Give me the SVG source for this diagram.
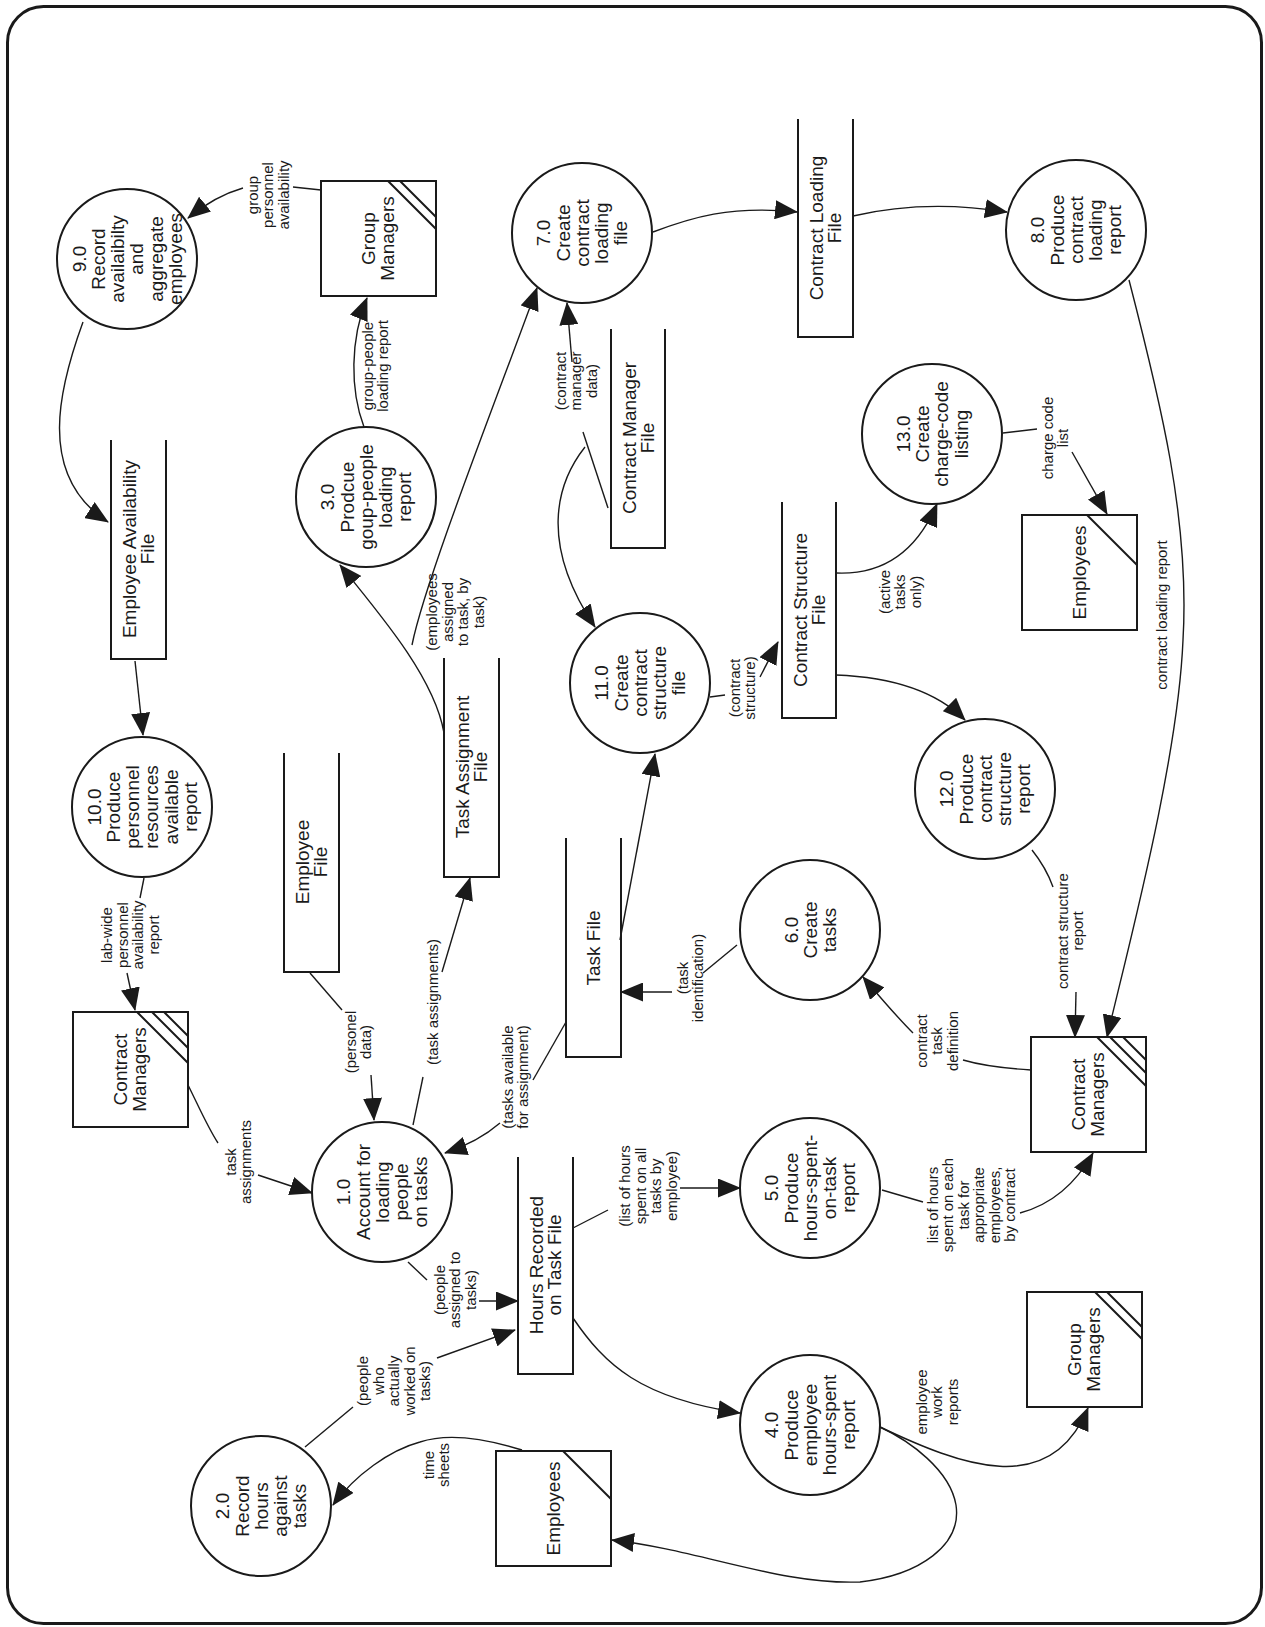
<svg xmlns="http://www.w3.org/2000/svg" width="1265" height="1627" viewBox="0 0 1265 1627">
<defs>
<style>
.b{fill:none;stroke:#1a1a1a;stroke-width:3}
.p{fill:#fff;stroke:#1a1a1a;stroke-width:2}
.s{fill:none;stroke:#1a1a1a;stroke-width:2}
.c{fill:none;stroke:#1a1a1a;stroke-width:1.4}
.a{marker-end:url(#ah)}
.t{font-family:"Liberation Sans",Arial,sans-serif;font-size:19px;fill:#1a1a1a;text-anchor:middle}
.l{font-family:"Liberation Sans",Arial,sans-serif;font-size:15px;fill:#1a1a1a;text-anchor:middle}
</style>
<marker id="ah" viewBox="0 0 23 19" refX="22" refY="9.5" markerWidth="23" markerHeight="19" markerUnits="userSpaceOnUse" orient="auto"><path d="M0,0 L23,9.5 L0,19 z" fill="#1a1a1a"/></marker>
</defs>
<rect width="1265" height="1627" fill="#fff"/>
<rect class="b" x="7.5" y="6.5" width="1254" height="1617" rx="36"/>

<g id="connectors">
<!-- GM top -> 9.0 -->
<path class="c" d="M321,190 L293,187"/>
<path class="c a" d="M243,188 Q215,196 188,218"/>
<text class="l" transform="translate(268,195) rotate(-90)"><tspan x="0" y="-10.1">group</tspan><tspan x="0" y="5.4">personnel</tspan><tspan x="0" y="20.9">availability</tspan></text>
<!-- 3.0 -> GM top -->
<path class="c a" d="M364,427 C350,390 350,340 367,298"/>
<text class="l" transform="translate(375,366) rotate(-90)"><tspan x="0" y="-2.35">group-people</tspan><tspan x="0" y="13.15">loading report</tspan></text>
<!-- 9.0 -> EAF -->
<path class="c a" d="M83,322 C60,385 35,475 108,522"/>
<!-- EAF -> 10.0 -->
<path class="c a" d="M135,661 L143,735"/>
<!-- 10.0 -> CM left -->
<path class="c" d="M144,878 L140,898"/>
<path class="c a" d="M127,973 L135,1010"/>
<text class="l" transform="translate(130,935) rotate(-90)"><tspan x="0" y="-17.85">lab-wide</tspan><tspan x="0" y="-2.35">personnel</tspan><tspan x="0" y="13.15">availability</tspan><tspan x="0" y="28.65">report</tspan></text>
<!-- CM left -> 1.0 -->
<path class="c" d="M188,1085 C198,1105 208,1128 218,1143"/>
<path class="c a" d="M258,1175 L312,1193"/>
<text class="l" transform="translate(238,1162) rotate(-90)"><tspan x="0" y="-2.35">task</tspan><tspan x="0" y="13.15">assignments</tspan></text>
<!-- Employee File -> 1.0 -->
<path class="c" d="M310,973 L342,1010"/>
<path class="c a" d="M371,1075 L374,1120"/>
<text class="l" transform="translate(358,1042) rotate(-90)"><tspan x="0" y="-2.35">(personel</tspan><tspan x="0" y="13.15">data)</tspan></text>
<!-- 1.0 -> TAF -->
<path class="c" d="M413,1125 L423,1077"/>
<path class="c a" d="M442,972 L470,878"/>
<text class="l" transform="translate(433,1002) rotate(-90)"><tspan x="0" y="5.4">(task assignments)</tspan></text>
<!-- Task File -> 1.0 -->
<path class="c" d="M566,1022 L533,1080"/>
<path class="c a" d="M500,1123 Q478,1142 445,1153"/>
<text class="l" transform="translate(515,1077) rotate(-90)"><tspan x="0" y="-2.35">(tasks available</tspan><tspan x="0" y="13.15">for assignment)</tspan></text>
<!-- TAF -> 3.0 -->
<path class="c a" d="M444,733 C435,680 385,620 340,565"/>
<!-- TAF -> 7.0 -->
<path class="c a" d="M412,645 C425,580 500,390 537,288"/>
<text class="l" transform="translate(455,612) rotate(-90)"><tspan x="0" y="-17.85">(employees</tspan><tspan x="0" y="-2.35">assigned</tspan><tspan x="0" y="13.15">to task, by</tspan><tspan x="0" y="28.65">task)</tspan></text>
<!-- CMF -> 7.0 / 11.0 -->
<path class="c" d="M608,508 L583,432"/>
<path class="c a" d="M572,362 L567,303"/>
<path class="c a" d="M585,447 C555,485 540,545 595,627"/>
<text class="l" transform="translate(576,381) rotate(-90)"><tspan x="0" y="-10.1">(contract</tspan><tspan x="0" y="5.4">manager</tspan><tspan x="0" y="20.9">data)</tspan></text>
<!-- 7.0 -> CLF -->
<path class="c a" d="M653,232 C690,218 730,205 797,212"/>
<!-- CLF -> 8.0 -->
<path class="c a" d="M853,216 C900,205 950,203 1007,212"/>
<!-- 8.0 -> CM right -->
<path class="c a" d="M1129,280 C1160,400 1190,520 1183,640 C1178,760 1130,940 1107,1037"/>
<text class="l" transform="translate(1162,615) rotate(-90)"><tspan x="0" y="5.4">contract loading report</tspan></text>
<!-- 11.0 -> CSF -->
<path class="c" d="M710,697 L725,695"/>
<path class="c a" d="M760,677 L778,642"/>
<text class="l" transform="translate(742,688) rotate(-90)"><tspan x="0" y="-2.35">(contract</tspan><tspan x="0" y="13.15">structure)</tspan></text>
<!-- Task File -> 11.0 -->
<path class="c a" d="M620,940 L655,754"/>
<!-- CSF -> 13.0 -->
<path class="c a" d="M836,573 C880,575 915,555 937,504"/>
<text class="l" transform="translate(900,592) rotate(-90)"><tspan x="0" y="-10.1">(active</tspan><tspan x="0" y="5.4">tasks</tspan><tspan x="0" y="20.9">only)</tspan></text>
<!-- 13.0 -> Employees top -->
<path class="c" d="M1003,433 L1037,429"/>
<path class="c a" d="M1072,452 L1107,514"/>
<text class="l" transform="translate(1055,438) rotate(-90)"><tspan x="0" y="-2.35">charge code</tspan><tspan x="0" y="13.15">list</tspan></text>
<!-- CSF -> 12.0 -->
<path class="c a" d="M836,675 C890,677 935,690 965,720"/>
<!-- 6.0 -> Task File -->
<path class="c" d="M737,945 L703,973"/>
<path class="c a" d="M672,992 L621,992"/>
<text class="l" transform="translate(690,978) rotate(-90)"><tspan x="0" y="-2.35">(task</tspan><tspan x="0" y="13.15">identification)</tspan></text>
<!-- CM right -> 6.0 -->
<path class="c" d="M1031,1070 C1000,1068 980,1065 963,1060"/>
<path class="c a" d="M913,1033 C895,1015 880,997 863,977"/>
<text class="l" transform="translate(937,1041) rotate(-90)"><tspan x="0" y="-10.1">contract</tspan><tspan x="0" y="5.4">task</tspan><tspan x="0" y="20.9">definition</tspan></text>
<!-- 12.0 -> CM right -->
<path class="c" d="M1032,850 C1040,860 1048,873 1053,887"/>
<path class="c a" d="M1076,992 L1075,1037"/>
<text class="l" transform="translate(1070,931) rotate(-90)"><tspan x="0" y="-2.35">contract structure</tspan><tspan x="0" y="13.15">report</tspan></text>
<!-- 1.0 -> HR -->
<path class="c" d="M408,1262 L427,1280"/>
<path class="c a" d="M479,1301 L518,1301"/>
<text class="l" transform="translate(455,1290) rotate(-90)"><tspan x="0" y="-10.1">(people</tspan><tspan x="0" y="5.4">assigned to</tspan><tspan x="0" y="20.9">tasks)</tspan></text>
<!-- 2.0 -> HR -->
<path class="c" d="M305,1447 L353,1407"/>
<path class="c a" d="M437,1358 L515,1330"/>
<text class="l" transform="translate(394,1381) rotate(-90)"><tspan x="0" y="-25.6">(people</tspan><tspan x="0" y="-10.1">who</tspan><tspan x="0" y="5.4">actually</tspan><tspan x="0" y="20.9">worked on</tspan><tspan x="0" y="36.4">tasks)</tspan></text>
<!-- Employees bottom -> 2.0 -->
<path class="c a" d="M522,1450 C490,1440 450,1432 420,1442 C390,1450 355,1475 333,1505"/>
<text class="l" transform="translate(436,1465) rotate(-90)"><tspan x="0" y="-2.35">time</tspan><tspan x="0" y="13.15">sheets</tspan></text>
<!-- HR -> 5.0 -->
<path class="c" d="M573,1228 L608,1210"/>
<path class="c a" d="M680,1188 L740,1188"/>
<text class="l" transform="translate(648,1186) rotate(-90)"><tspan x="0" y="-17.85">(list of hours</tspan><tspan x="0" y="-2.35">spent on all</tspan><tspan x="0" y="13.15">tasks by</tspan><tspan x="0" y="28.65">employee)</tspan></text>
<!-- HR -> 4.0 -->
<path class="c a" d="M573,1318 C605,1365 640,1398 740,1413"/>
<!-- 5.0 -> CM right -->
<path class="c" d="M882,1190 L923,1202"/>
<path class="c a" d="M1020,1213 C1050,1205 1075,1185 1093,1153"/>
<text class="l" transform="translate(971,1205) rotate(-90)"><tspan x="0" y="-33.35">list of hours</tspan><tspan x="0" y="-17.85">spent on each</tspan><tspan x="0" y="-2.35">task for</tspan><tspan x="0" y="13.15">appropriate</tspan><tspan x="0" y="28.65">employees,</tspan><tspan x="0" y="44.15">by contract</tspan></text>
<!-- 4.0 -> GM bottom -->
<path class="c a" d="M880,1427 C960,1465 1050,1500 1088,1408"/>
<text class="l" transform="translate(937,1402) rotate(-90)"><tspan x="0" y="-10.1">employee</tspan><tspan x="0" y="5.4">work</tspan><tspan x="0" y="20.9">reports</tspan></text>
<!-- 4.0 -> Employees bottom -->
<path class="c a" d="M880,1427 C910,1441 950,1470 956,1505 C962,1545 920,1575 860,1582 C780,1585 700,1550 612,1540"/>
</g>

<g id="p9">
<circle class="p" cx="127" cy="259" r="70"/>
<text class="t" transform="translate(127,259) rotate(-90)"><tspan x="0" y="-41.2">9.0</tspan><tspan x="0" y="-22">Record</tspan><tspan x="0" y="-2.8">availaibilty</tspan><tspan x="0" y="16.4">and</tspan><tspan x="0" y="35.6">aggregate</tspan><tspan x="0" y="54.8">employees</tspan></text>
</g>
<g id="gm-top">
<rect class="p" x="321" y="181" width="115" height="115"/>
<path class="s" d="M388,181 L436,229 M400,181 L436,217"/>
<text class="t" transform="translate(378,238.5) rotate(-90)"><tspan x="0" y="-2.8">Group</tspan><tspan x="0" y="16.4">Managers</tspan></text>
</g>
<g id="p7">
<circle class="p" cx="582" cy="233" r="70"/>
<text class="t" transform="translate(582,233) rotate(-90)"><tspan x="0" y="-31.6">7.0</tspan><tspan x="0" y="-12.4">Create</tspan><tspan x="0" y="6.8">contract</tspan><tspan x="0" y="26">loading</tspan><tspan x="0" y="45.2">file</tspan></text>
</g>
<g id="clf">
<path class="s" d="M798,119 L798,337 L853,337 L853,119"/>
<text class="t" transform="translate(825.5,228) rotate(-90)"><tspan x="0" y="-2.2">Contract Loading</tspan><tspan x="0" y="15.8">File</tspan></text>
</g>
<g id="p8">
<circle class="p" cx="1076" cy="230" r="70"/>
<text class="t" transform="translate(1076,230) rotate(-90)"><tspan x="0" y="-31.6">8.0</tspan><tspan x="0" y="-12.4">Produce</tspan><tspan x="0" y="6.8">contract</tspan><tspan x="0" y="26">loading</tspan><tspan x="0" y="45.2">report</tspan></text>
</g>
<g id="eaf">
<path class="s" d="M111,440 L111,659 L166,659 L166,440"/>
<text class="t" transform="translate(138.5,549) rotate(-90)"><tspan x="0" y="-2.2">Employee Availability</tspan><tspan x="0" y="15.8">File</tspan></text>
</g>
<g id="p3">
<circle class="p" cx="366" cy="497" r="70"/>
<text class="t" transform="translate(366,497) rotate(-90)"><tspan x="0" y="-31.6">3.0</tspan><tspan x="0" y="-12.4">Prodcue</tspan><tspan x="0" y="6.8">goup-people</tspan><tspan x="0" y="26">loading</tspan><tspan x="0" y="45.2">report</tspan></text>
</g>
<g id="cmf">
<path class="s" d="M611,329 L611,548 L665,548 L665,329"/>
<text class="t" transform="translate(638,438) rotate(-90)"><tspan x="0" y="-2.2">Contract Manager</tspan><tspan x="0" y="15.8">File</tspan></text>
</g>
<g id="p13">
<circle class="p" cx="932" cy="434" r="70"/>
<text class="t" transform="translate(932,434) rotate(-90)"><tspan x="0" y="-22">13.0</tspan><tspan x="0" y="-2.8">Create</tspan><tspan x="0" y="16.4">charge-code</tspan><tspan x="0" y="35.6">listing</tspan></text>
</g>
<g id="csf">
<path class="s" d="M782,502 L782,718 L836,718 L836,502"/>
<text class="t" transform="translate(809,610) rotate(-90)"><tspan x="0" y="-2.2">Contract Structure</tspan><tspan x="0" y="15.8">File</tspan></text>
</g>
<g id="p11">
<circle class="p" cx="640" cy="683" r="70"/>
<text class="t" transform="translate(640,683) rotate(-90)"><tspan x="0" y="-31.6">11.0</tspan><tspan x="0" y="-12.4">Create</tspan><tspan x="0" y="6.8">contract</tspan><tspan x="0" y="26">structure</tspan><tspan x="0" y="45.2">file</tspan></text>
</g>
<g id="emp-top">
<rect class="p" x="1022" y="515" width="115" height="115"/>
<path class="s" d="M1087,515 L1137,565"/>
<text class="t" transform="translate(1079.5,572.5) rotate(-90)"><tspan x="0" y="6.8">Employees</tspan></text>
</g>
<g id="p12">
<circle class="p" cx="985" cy="789" r="70"/>
<text class="t" transform="translate(985,789) rotate(-90)"><tspan x="0" y="-31.6">12.0</tspan><tspan x="0" y="-12.4">Produce</tspan><tspan x="0" y="6.8">contract</tspan><tspan x="0" y="26">structure</tspan><tspan x="0" y="45.2">report</tspan></text>
</g>
<g id="p10">
<circle class="p" cx="142" cy="807" r="70"/>
<text class="t" transform="translate(142,807) rotate(-90)"><tspan x="0" y="-41.2">10.0</tspan><tspan x="0" y="-22">Produce</tspan><tspan x="0" y="-2.8">personnel</tspan><tspan x="0" y="16.4">resources</tspan><tspan x="0" y="35.6">available</tspan><tspan x="0" y="54.8">report</tspan></text>
</g>
<g id="ef">
<path class="s" d="M284,753 L284,972 L339,972 L339,753"/>
<text class="t" transform="translate(311.5,862) rotate(-90)"><tspan x="0" y="-2.2">Employee</tspan><tspan x="0" y="15.8">File</tspan></text>
</g>
<g id="taf">
<path class="s" d="M444,658 L444,877 L499,877 L499,658"/>
<text class="t" transform="translate(471.5,767) rotate(-90)"><tspan x="0" y="-2.2">Task Assignment</tspan><tspan x="0" y="15.8">File</tspan></text>
</g>
<g id="tf">
<path class="s" d="M566,838 L566,1057 L621,1057 L621,838"/>
<text class="t" transform="translate(593.5,948) rotate(-90)"><tspan x="0" y="6.8">Task File</tspan></text>
</g>
<g id="p6">
<circle class="p" cx="810" cy="930" r="70"/>
<text class="t" transform="translate(810,930) rotate(-90)"><tspan x="0" y="-12.4">6.0</tspan><tspan x="0" y="6.8">Create</tspan><tspan x="0" y="26">tasks</tspan></text>
</g>
<g id="cm-left">
<rect class="p" x="73" y="1012" width="115" height="115"/>
<path class="s" d="M137,1012 L188,1063 M152,1012 L188,1048 M164,1012 L188,1036"/>
<text class="t" transform="translate(129.5,1069.5) rotate(-90)"><tspan x="0" y="-2.8">Contract</tspan><tspan x="0" y="16.4">Managers</tspan></text>
</g>
<g id="p1">
<circle class="p" cx="382" cy="1192" r="70"/>
<text class="t" transform="translate(382,1192) rotate(-90)"><tspan x="0" y="-31.6">1.0</tspan><tspan x="0" y="-12.4">Account for</tspan><tspan x="0" y="6.8">loading</tspan><tspan x="0" y="26">people</tspan><tspan x="0" y="45.2">on tasks</tspan></text>
</g>
<g id="hr">
<path class="s" d="M518,1157 L518,1374 L573,1374 L573,1157"/>
<text class="t" transform="translate(545.5,1265) rotate(-90)"><tspan x="0" y="-2.2">Hours Recorded</tspan><tspan x="0" y="15.8">on Task File</tspan></text>
</g>
<g id="p5">
<circle class="p" cx="810" cy="1188" r="70"/>
<text class="t" transform="translate(810,1188) rotate(-90)"><tspan x="0" y="-31.6">5.0</tspan><tspan x="0" y="-12.4">Produce</tspan><tspan x="0" y="6.8">hours-spent-</tspan><tspan x="0" y="26">on-task</tspan><tspan x="0" y="45.2">report</tspan></text>
</g>
<g id="cm-right">
<rect class="p" x="1031" y="1037" width="115" height="115"/>
<path class="s" d="M1097,1037 L1146,1086 M1110,1037 L1146,1073 M1123,1037 L1146,1060"/>
<text class="t" transform="translate(1087.5,1094.5) rotate(-90)"><tspan x="0" y="-2.8">Contract</tspan><tspan x="0" y="16.4">Managers</tspan></text>
</g>
<g id="p4">
<circle class="p" cx="810" cy="1425" r="70"/>
<text class="t" transform="translate(810,1425) rotate(-90)"><tspan x="0" y="-31.6">4.0</tspan><tspan x="0" y="-12.4">Produce</tspan><tspan x="0" y="6.8">employee</tspan><tspan x="0" y="26">hours-spent</tspan><tspan x="0" y="45.2">report</tspan></text>
</g>
<g id="p2">
<circle class="p" cx="261" cy="1506" r="70"/>
<text class="t" transform="translate(261,1506) rotate(-90)"><tspan x="0" y="-31.6">2.0</tspan><tspan x="0" y="-12.4">Record</tspan><tspan x="0" y="6.8">hours</tspan><tspan x="0" y="26">against</tspan><tspan x="0" y="45.2">tasks</tspan></text>
</g>
<g id="emp-bottom">
<rect class="p" x="496" y="1451" width="115" height="115"/>
<path class="s" d="M563,1451 L611,1499"/>
<text class="t" transform="translate(553.5,1508.5) rotate(-90)"><tspan x="0" y="6.8">Employees</tspan></text>
</g>
<g id="gm-bottom">
<rect class="p" x="1027" y="1292" width="115" height="115"/>
<path class="s" d="M1095,1292 L1142,1339 M1107,1292 L1142,1327"/>
<text class="t" transform="translate(1083.5,1349.5) rotate(-90)"><tspan x="0" y="-2.8">Group</tspan><tspan x="0" y="16.4">Managers</tspan></text>
</g>
</svg>
